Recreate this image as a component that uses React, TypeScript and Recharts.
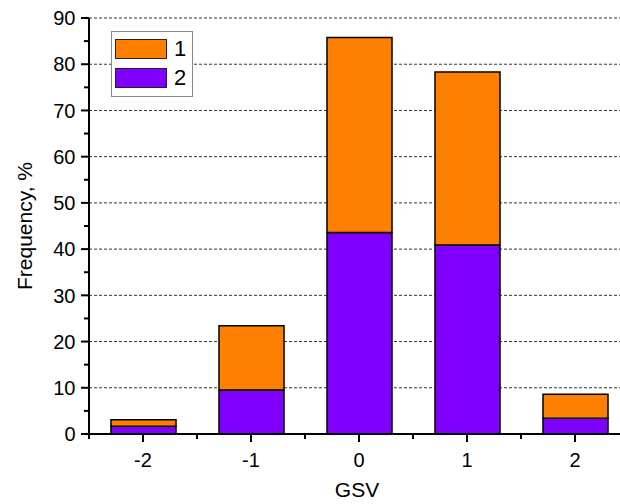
import { Bar, BarChart, CartesianGrid, Legend, XAxis, YAxis } from "recharts";

// GSV categories and stacked frequencies (%), series "2" is the lower part
const categories = ["-2", "-1", "0", "1", "2"];
const series2 = [1.7, 9.5, 43.6, 40.9, 3.4];
const series1 = [1.4, 13.9, 42.2, 37.4, 5.2];
const yTicks = [0, 5, 10, 15, 20, 25, 30, 35, 40, 45, 50, 55, 60, 65, 70, 75, 80, 85, 90];
const gridValues = [10, 20, 30, 40, 50, 60, 70, 80, 90];

const ORANGE = "#FF8000";
const PURPLE = "#8000FF";
const FONT = '"Liberation Sans", Arial, sans-serif';

const data = categories.map((gsv, i) => ({ gsv, s2: series2[i], s1: series1[i] }));

function XTick(props: any) {
  const { x, y, payload, index } = props;
  const half = 54;
  return (
    <g>
      <line x1={x} x2={x} y1={y} y2={y + 8} stroke="#000" strokeWidth={2} />
      <line x1={x + half} x2={x + half} y1={y} y2={y + 5} stroke="#000" strokeWidth={2} />
      {index === 0 && (
        <line x1={x - half} x2={x - half} y1={y} y2={y + 5} stroke="#000" strokeWidth={2} />
      )}
      <text x={x} y={y + 32.5} textAnchor="middle" fontSize={20} fontFamily={FONT} fill="#000">
        {payload.value}
      </text>
    </g>
  );
}

function YTick(props: any) {
  const { x, y, payload } = props;
  const major = payload.value % 10 === 0;
  return (
    <g>
      <line x1={x} x2={x - (major ? 8 : 5)} y1={y} y2={y} stroke="#000" strokeWidth={2} />
      {major && (
        <text x={x - 13.5} y={y} dy="0.36em" textAnchor="end" fontSize={20} fontFamily={FONT} fill="#000">
          {payload.value}
        </text>
      )}
    </g>
  );
}

function LegendBox() {
  const items = [
    { label: "1", color: ORANGE, top: 7 },
    { label: "2", color: PURPLE, top: 36 },
  ];
  return (
    <div
      style={{
        position: "relative",
        width: 82,
        height: 66,
        boxSizing: "border-box",
        border: "1px solid #888",
        background: "#fff",
        fontFamily: FONT,
      }}
    >
      {items.map((it) => (
        <div key={it.label}>
          <div
            style={{
              position: "absolute",
              left: 3,
              top: it.top,
              width: 52,
              height: 20,
              boxSizing: "border-box",
              border: "1.5px solid #222",
              background: it.color,
            }}
          />
          <div
            style={{
              position: "absolute",
              left: 62,
              top: it.top - 3,
              fontSize: 22,
              lineHeight: "26px",
              color: "#000",
            }}
          >
            {it.label}
          </div>
        </div>
      ))}
    </div>
  );
}

export default function App() {
  return (
    <div
      style={{
        position: "absolute",
        left: 0,
        top: 0,
        width: 620,
        height: 504,
        overflow: "hidden",
        background: "#fff",
      }}
    >
      <BarChart
        width={640}
        height={504}
        data={data}
        margin={{ top: 18, right: 11, bottom: 0, left: 1 }}
      >
        <CartesianGrid
          vertical={false}
          horizontalValues={gridValues}
          stroke="#333"
          strokeDasharray="3 2"
        />
        <XAxis
          dataKey="gsv"
          height={70}
          tickSize={0}
          tickMargin={0}
          tickLine={false}
          stroke="#000"
          strokeWidth={2}
          interval={0}
          tick={<XTick />}
          label={{
            content: () => (
              <text x={357} y={497} textAnchor="middle" fontSize={21} fontFamily={FONT} fill="#000">
                GSV
              </text>
            ),
          }}
        />
        <YAxis
          width={88}
          domain={[0, 90]}
          ticks={yTicks}
          interval={0}
          tickSize={0}
          tickMargin={0}
          tickLine={false}
          stroke="#000"
          strokeWidth={2}
          tick={<YTick />}
          label={{
            content: () => (
              <text
                x={32}
                y={226}
                transform="rotate(-90 32 226)"
                textAnchor="middle"
                fontSize={21}
                fontFamily={FONT}
                fill="#000"
              >
                Frequency, %
              </text>
            ),
          }}
        />
        <Legend
          layout="vertical"
          align="center"
          verticalAlign="middle"
          wrapperStyle={{ left: 111, top: 31, width: 82 }}
          content={() => <LegendBox />}
        />
        <Bar dataKey="s2" name="2" stackId="a" fill={PURPLE} stroke="#000" strokeWidth={1.5} barSize={65} isAnimationActive={false} />
        <Bar dataKey="s1" name="1" stackId="a" fill={ORANGE} stroke="#000" strokeWidth={1.5} barSize={65} isAnimationActive={false} />
      </BarChart>
    </div>
  );
}
